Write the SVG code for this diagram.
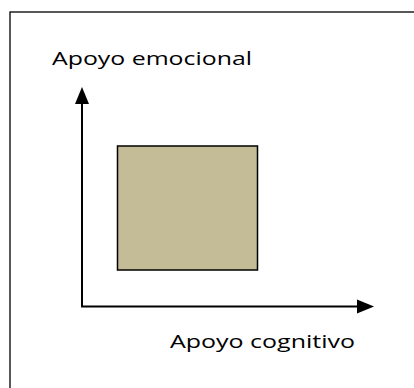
<svg xmlns="http://www.w3.org/2000/svg" width="414" height="388" viewBox="0 0 414 388">
<style>
.lbl{font-family:"Open Sans","Liberation Sans",sans-serif;font-size:18px;fill:#000}
.ax{stroke:#000;stroke-width:2;fill:none}
</style>
<rect x="0" y="0" width="414" height="388" fill="#fff"/>
<rect id="frame" x="10" y="12" width="420" height="400" fill="none" stroke="#000" stroke-width="1.3"/>
<g id="connectors">
<path class="ax" d="M82,306.5 V102"/>
<polygon points="82,87 75,104 89,104" fill="#000"/>
<path class="ax" d="M81,306.5 H360"/>
<polygon points="374,306.5 357,299.5 357,313.5" fill="#000"/>
</g>
<g id="box">
<rect x="117.5" y="146" width="140" height="124" fill="#c4bc97" stroke="#000" stroke-width="1.5"/>
</g>
<g id="label-y">
<text class="lbl" x="52" y="65" textLength="200" lengthAdjust="spacingAndGlyphs">Apoyo emocional</text>
</g>
<g id="label-x">
<text class="lbl" x="170" y="348" textLength="185" lengthAdjust="spacingAndGlyphs">Apoyo cognitivo</text>
</g>
</svg>
